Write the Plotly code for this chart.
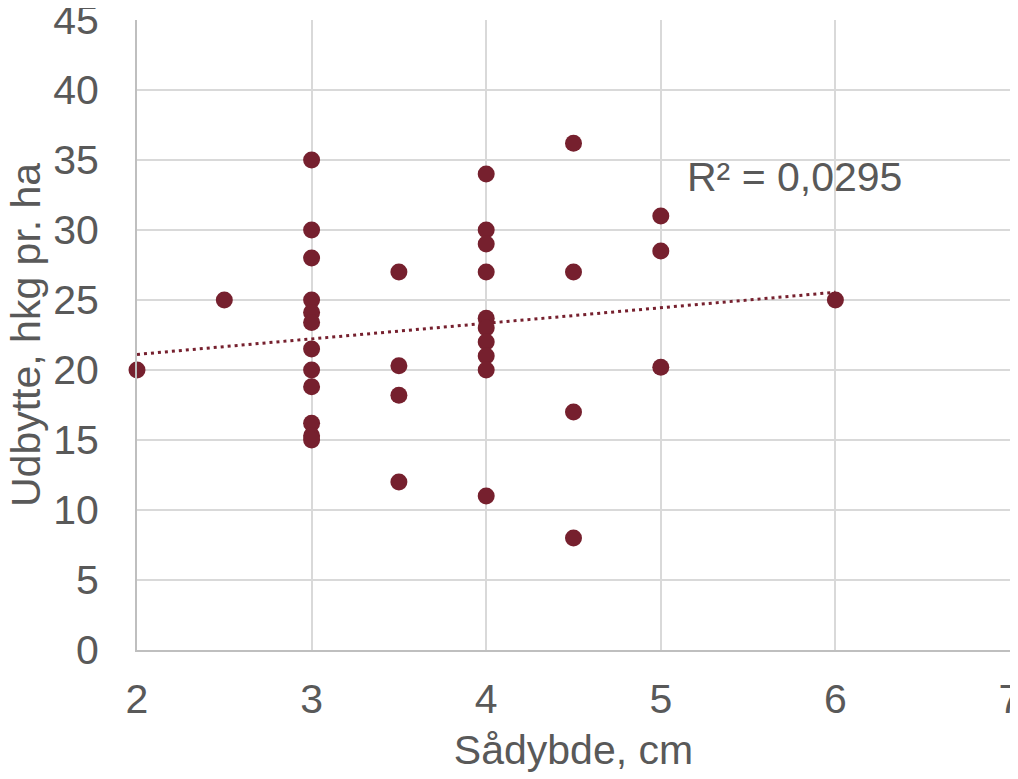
import numpy as np
import plotly.graph_objects as go

# Data
depth_cm = [2, 2.5,
            3, 3, 3, 3, 3, 3, 3, 3, 3, 3, 3, 3,
            3.5, 3.5, 3.5, 3.5,
            4, 4, 4, 4, 4, 4, 4, 4, 4, 4,
            4.5, 4.5, 4.5, 4.5,
            5, 5, 5,
            6]
yield_hkg = [20, 25,
             35, 30, 28, 25, 24.1, 23.4, 21.5, 20, 18.8, 16.2, 15.3, 15,
             27, 20.3, 18.2, 12,
             34, 30, 29, 27, 23.7, 23, 22, 21, 20, 11,
             36.2, 27, 17, 8,
             31, 28.5, 20.2,
             25]
r2_label = "R² = 0,0295"
x_title = "Sådybde, cm"
y_title = "Udbytte, hkg pr. ha"
x_ticks = [2, 3, 4, 5, 6, 7]
y_ticks = [0, 5, 10, 15, 20, 25, 30, 35, 40, 45]

color = "#76202E"
text_col = "#595959"
font_family = "Liberation Sans, Arial, sans-serif"

# Linear trendline
slope, intercept = np.polyfit(depth_cm, yield_hkg, 1)
tx = [min(depth_cm), max(depth_cm)]
ty = [slope * v + intercept for v in tx]

fig = go.Figure()
fig.add_trace(go.Scatter(
    x=tx, y=ty, mode="lines",
    line=dict(color=color, width=3, dash="3px,4px"),
    hoverinfo="skip", showlegend=False, cliponaxis=False,
))
fig.add_trace(go.Scatter(
    x=depth_cm, y=yield_hkg, mode="markers",
    marker=dict(color=color, size=17, line=dict(width=0)),
    showlegend=False, cliponaxis=False,
))

fig.add_annotation(
    x=5.14, y=33.8, xref="x", yref="y", xanchor="left", yanchor="middle",
    text=r2_label, showarrow=False,
    font=dict(family=font_family, size=41, color=text_col),
)
# y-axis title
fig.add_annotation(
    x=0, y=0.5, xref="paper", yref="paper", xanchor="center", yanchor="middle",
    xshift=-111, textangle=-90, text=y_title, showarrow=False,
    font=dict(family=font_family, size=41, color=text_col),
)

# page body has an 8px default margin -> size figure to fit the window
fig.update_layout(
    width=1010, height=771,
    margin=dict(l=129, r=8, t=12, b=129, autoexpand=False),
    paper_bgcolor="white", plot_bgcolor="white",
    font=dict(family=font_family, size=41, color=text_col),
)
fig.update_xaxes(
    range=[2, 7], tickvals=x_ticks, ticktext=[str(v) for v in x_ticks],
    showgrid=True, gridcolor="#D9D9D9", gridwidth=2,
    zeroline=False, showline=True, linecolor="#BFBFBF", linewidth=2,
    ticks="", ticklabelstandoff=12, automargin=False, ticklabeloverflow="allow",
    tickfont=dict(family=font_family, size=41, color=text_col),
    title=dict(text=x_title, standoff=14,
               font=dict(family=font_family, size=41, color=text_col)),
)
fig.update_yaxes(
    range=[0, 45], tickvals=y_ticks, ticktext=[str(v) for v in y_ticks],
    showgrid=True, gridcolor="#D9D9D9", gridwidth=2,
    zeroline=False, showline=True, linecolor="#BFBFBF", linewidth=2,
    ticks="", ticklabelstandoff=28, automargin=False, ticklabeloverflow="allow",
    tickfont=dict(family=font_family, size=41, color=text_col),
)

fig.write_html("out.html")
